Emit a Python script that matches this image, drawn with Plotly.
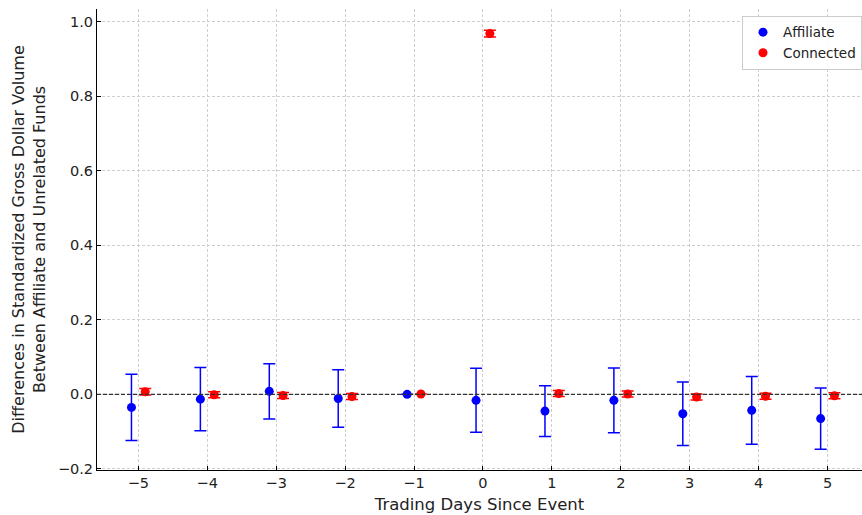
import plotly.graph_objects as go

days = [-5, -4, -3, -2, -1, 0, 1, 2, 3, 4, 5]

affiliate_mean = [-0.035, -0.013, 0.008, -0.011, 0.0, -0.016, -0.045, -0.016, -0.052, -0.043, -0.065]
affiliate_err = [0.089, 0.085, 0.074, 0.077, 0.0, 0.086, 0.068, 0.087, 0.085, 0.091, 0.082]

connected_mean = [0.007, -0.001, -0.003, -0.006, 0.001, 0.968, 0.002, 0.001, -0.007, -0.005, -0.004]
connected_err = [0.009, 0.008, 0.008, 0.008, 0.0, 0.009, 0.008, 0.008, 0.008, 0.008, 0.008]

offset = 0.1
FONT = "DejaVu Sans"

fig = go.Figure()

fig.add_trace(go.Scatter(
    x=[d - offset for d in days], y=affiliate_mean, mode="markers", name="Affiliate",
    marker=dict(color="blue", size=9),
    error_y=dict(type="data", array=affiliate_err, visible=True, color="blue",
                 thickness=1.5, width=6),
))
fig.add_trace(go.Scatter(
    x=[d + offset for d in days], y=connected_mean, mode="markers", name="Connected",
    marker=dict(color="red", size=9),
    error_y=dict(type="data", array=connected_err, visible=True, color="red",
                 thickness=1.5, width=6),
))

# zero reference line
fig.add_hline(y=0, line=dict(color="#333333", width=1.2, dash="4px,2px"))

axis_common = dict(
    showgrid=True, gridcolor="#cfcfcf", griddash="3px,2px", gridwidth=0.8,
    showline=True, linecolor="black", linewidth=1,
    ticks="inside", ticklen=4, tickcolor="black",
    tickfont=dict(family=FONT, size=14.5, color="#222222"),
    zeroline=False, mirror=False,
)

fig.update_layout(
    width=862, height=515,
    margin=dict(l=97, r=0, t=9, b=45),
    plot_bgcolor="white", paper_bgcolor="white",
    font=dict(family=FONT, color="#222222"),
    xaxis=dict(
        range=[-5.6, 5.5], tickmode="array", tickvals=days,
        ticktext=[str(d).replace("-", "\u2212") for d in days],
        title=dict(text="Trading Days Since Event", font=dict(family=FONT, size=16.5), standoff=8),
        **axis_common,
    ),
    yaxis=dict(
        range=[-0.203, 1.034], tickmode="array",
        tickvals=[-0.2, 0.0, 0.2, 0.4, 0.6, 0.8, 1.0],
        ticktext=["\u22120.2", "0.0", "0.2", "0.4", "0.6", "0.8", "1.0"],
        title=dict(text="Differences in Standardized Gross Dollar Volume<br>Between Affiliate and Unrelated Funds",
                   font=dict(family=FONT, size=16), standoff=8),
        **axis_common,
    ),
    legend=dict(
        x=1.0, xanchor="right", y=0.985, yanchor="top",
        bgcolor="rgba(255,255,255,0.85)", bordercolor="#cccccc", borderwidth=1,
        font=dict(family=FONT, size=13.5, color="#222222"),
        itemwidth=30, tracegroupgap=0,
    ),
    showlegend=True,
)

fig.write_html("out.html")
